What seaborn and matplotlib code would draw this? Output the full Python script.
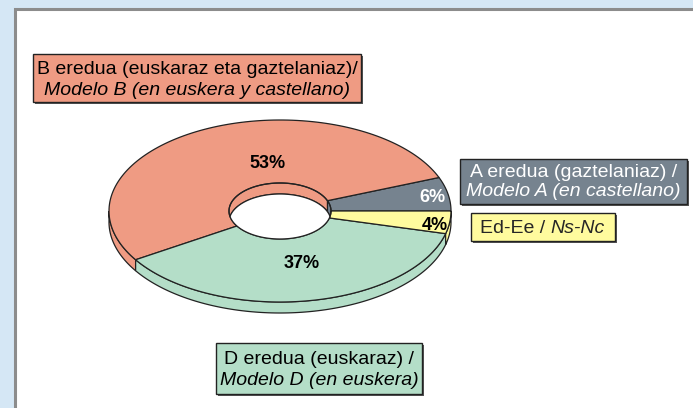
import numpy as np
import matplotlib
matplotlib.use("Agg")
import matplotlib.pyplot as plt
from matplotlib.patches import Polygon, Rectangle
import seaborn as sns

# data: share of students per teaching model (counter-clockwise from 3 o'clock)
slice_names = ["A", "B", "D", "Ed-Ee"]
slice_values = [6, 53, 37, 4]
slice_colors = ["#76838F", "#EF9B83", "#B4DEC8", "#FFFB9E"]
pct_labels = ["6%", "53%", "37%", "4%"]
pct_colors = ["white", "black", "black", "black"]

# legend-like boxes: (line1 regular, line2 italic)
box_texts = {
    "B": ("B eredua (euskaraz eta gaztelaniaz)/", "Modelo B (en euskera y castellano)"),
    "A": ("A eredua (gaztelaniaz) /", "Modelo A (en castellano)"),
    "D": ("D eredua (euskaraz) /", "Modelo D (en euskera)"),
}
ed_text = ("Ed-Ee /", "Ns-Nc")

sns.set_style("white")
plt.rcParams["font.family"] = ["Liberation Sans", "DejaVu Sans"]

W, H = 693, 408
fig = plt.figure(figsize=(W / 100, H / 100), dpi=100)
fig.patch.set_facecolor("#D5E7F5")
ax = fig.add_axes([0, 0, 1, 1])
ax.set_xlim(0, W)
ax.set_ylim(H, 0)
ax.axis("off")

# plot area
ax.add_patch(Rectangle((15, 9), W, H, facecolor="white", edgecolor="#8C8C8C", lw=2.2, zorder=0))

# donut geometry (pixel units)
cx, cy = 280, 211
a_out, b_out = 171, 91
a_in, b_in = 51, 28
depth = 11
EC = "#222222"
LW = 0.9
FS = 14


def arc(a, b, t1, t2, dy=0.0, n=120):
    t = np.radians(np.linspace(t1, t2, n))
    return np.column_stack([cx + a * np.cos(t), cy - b * np.sin(t) + dy])


fracs = np.array(slice_values) / np.sum(slice_values)
edges = np.concatenate([[0], np.cumsum(fracs) * 360])

# outer side wall (front half only)
for i in range(len(slice_values)):
    t1, t2 = max(edges[i], 180), min(edges[i + 1], 360)
    if t2 <= t1:
        continue
    top = arc(a_out, b_out, t1, t2)
    bot = arc(a_out, b_out, t2, t1, dy=depth)
    ax.add_patch(Polygon(np.vstack([top, bot]), closed=True, facecolor=slice_colors[i],
                         edgecolor=EC, lw=LW, zorder=2))

# top face ring segments
for i in range(len(slice_values)):
    t1, t2 = edges[i], edges[i + 1]
    outer = arc(a_out, b_out, t1, t2)
    inner = arc(a_in, b_in, t2, t1)
    ax.add_patch(Polygon(np.vstack([outer, inner]), closed=True, facecolor=slice_colors[i],
                         edgecolor=EC, lw=LW, zorder=3))

# inner wall seen through the hole
hole = Polygon(arc(a_in, b_in, 0, 360), closed=True, transform=ax.transData)
for i in range(len(slice_values)):
    t1, t2 = edges[i], edges[i + 1]
    top = arc(a_in, b_in, t1, t2)
    bot = arc(a_in, b_in, t2, t1, dy=depth)
    p = Polygon(np.vstack([top, bot]), closed=True, facecolor=slice_colors[i],
                edgecolor=EC, lw=LW, zorder=4)
    ax.add_patch(p)
    p.set_clip_path(hole)
bottom_rim = Polygon(arc(a_in, b_in, 0, 360, dy=depth), closed=True, facecolor="white",
                     edgecolor=EC, lw=LW, zorder=5)
ax.add_patch(bottom_rim)
bottom_rim.set_clip_path(hole)
ax.add_patch(Polygon(arc(a_in, b_in, 0, 360), closed=True, fill=False, edgecolor=EC, lw=LW, zorder=6))

# percentage labels
pct_pos = [(432, 198), (267, 164), (302, 264), (435, 225)]
for (x, y), s, c in zip(pct_pos, pct_labels, pct_colors):
    ax.text(x, y, s, ha="center", va="center", fontsize=13, fontweight="bold", color=c, zorder=7)


def label_box(x0, y0, x1, y1, color, lines, txtcolor, baselines):
    ax.add_patch(Rectangle((x0 + 1.5, y0 + 1.5), x1 - x0, y1 - y0, facecolor="#555555",
                           edgecolor="none", zorder=7))
    ax.add_patch(Rectangle((x0, y0), x1 - x0, y1 - y0, facecolor=color, edgecolor="#222222",
                           lw=1.0, zorder=8))
    xc = (x0 + x1) / 2
    ax.text(xc, baselines[0], lines[0], ha="center", va="baseline", fontsize=FS,
            color=txtcolor, zorder=9)
    ax.text(xc, baselines[1], lines[1], ha="center", va="baseline", fontsize=FS,
            style="italic", color=txtcolor, zorder=9)


label_box(33, 54, 361, 102, slice_colors[1], box_texts["B"], "black", (74, 95))
label_box(460, 159, 687, 204, slice_colors[0], box_texts["A"], "white", (177, 196))
label_box(216, 343, 422, 394, slice_colors[2], box_texts["D"], "black", (364, 385))

# Ed-Ee box with mixed styles
ax.add_patch(Rectangle((472.5, 214.5), 144, 28, facecolor="#555555", edgecolor="none", zorder=7))
ax.add_patch(Rectangle((471, 213), 144, 28, facecolor=slice_colors[3], edgecolor="#222222",
                       lw=1.0, zorder=8))
ax.text(545, 233, ed_text[0], ha="right", va="baseline", fontsize=FS, zorder=9)
ax.text(550, 233, ed_text[1], ha="left", va="baseline", fontsize=FS, style="italic", zorder=9)

fig.savefig("out.png", dpi=100, facecolor=fig.get_facecolor())
